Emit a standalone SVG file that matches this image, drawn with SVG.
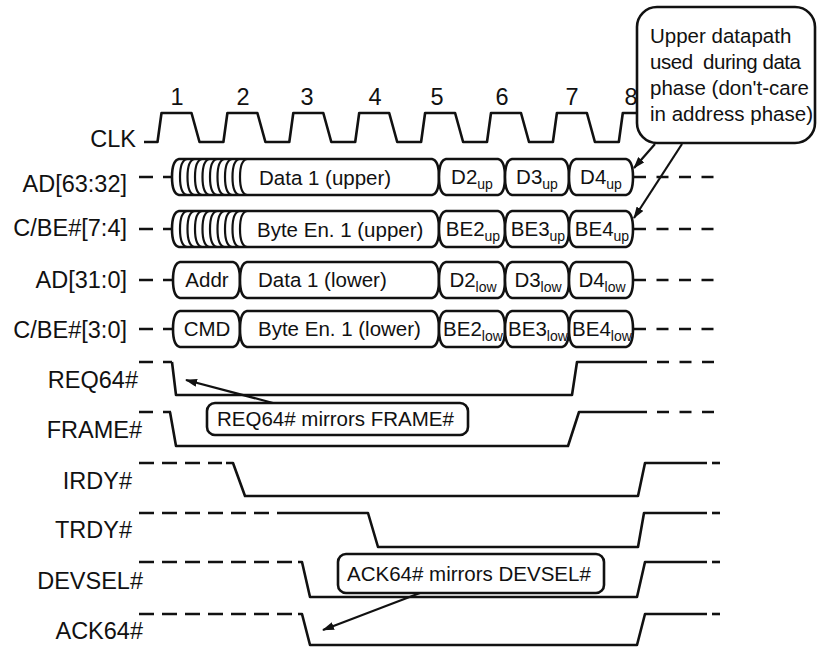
<svg xmlns="http://www.w3.org/2000/svg" xmlns:xlink="http://www.w3.org/1999/xlink" width="818" height="647" viewBox="0 0 818 647">
<style>
.ln{fill:none;stroke:#111;stroke-width:2.6;stroke-linejoin:round}
.bus{fill:#fff;stroke:#111;stroke-width:2.6;stroke-linejoin:round}
.arc{fill:none;stroke:#111;stroke-width:2.2}
.dL{fill:none;stroke:#111;stroke-width:2.6;stroke-dasharray:14 10}
.dR{fill:none;stroke:#111;stroke-width:2.6;stroke-dasharray:12 10.5}
.dS{fill:none;stroke:#111;stroke-width:2.6;stroke-dasharray:15 8}
.lab{font-family:"Liberation Sans",Arial,sans-serif;font-size:23.5px;fill:#111;text-anchor:end}
.num{font-family:"Liberation Sans",Arial,sans-serif;font-size:23.5px;fill:#111;text-anchor:middle}
.bt{font-family:"Liberation Sans",Arial,sans-serif;font-size:20.5px;fill:#111}
.btm{font-family:"Liberation Sans",Arial,sans-serif;font-size:20.5px;fill:#111;text-anchor:middle}
.sub{font-size:14px}
.ct{font-family:"Liberation Sans",Arial,sans-serif;font-size:20.5px;fill:#111}
.box{fill:#fff;stroke:#111;stroke-width:2.6}
.arr{fill:none;stroke:#111;stroke-width:2.2;marker-end:url(#ah)}
</style>
<defs>
<marker id="ah" viewBox="0 0 12 8" refX="11" refY="4" markerWidth="12" markerHeight="8" markerUnits="userSpaceOnUse" orient="auto">
<path d="M0,0 L12,4 L0,8 Z" fill="#111"/>
</marker>
<path id="arcU" class="arc" d="M7,-18 C2,-17 0,-10 0,0 C0,10 2,17 7,18"/>
<path id="sA" d="M179,-18 L432,-18 C437,-17 439,-10 439,0 C439,10 437,17 432,18 L179,18 C174,17 172,10 172,0 C172,-10 174,-17 179,-18Z"/>
<path id="sB" d="M446,-18 L498,-18 C503,-17 505,-10 505,0 C505,10 503,17 498,18 L446,18 C441,17 439,10 439,0 C439,-10 441,-17 446,-18Z"/>
<path id="sC" d="M512,-18 L562,-18 C567,-17 569,-10 569,0 C569,10 567,17 562,18 L512,18 C507,17 505,10 505,0 C505,-10 507,-17 512,-18Z"/>
<path id="sD" d="M576,-18 L626,-18 C631,-17 633,-10 633,0 C633,10 631,17 626,18 L576,18 C571,17 569,10 569,0 C569,-10 571,-17 576,-18Z"/>
<path id="sE" d="M180,-18 L233,-18 C238,-17 240,-10 240,0 C240,10 238,17 233,18 L180,18 C175,17 173,10 173,0 C173,-10 175,-17 180,-18Z"/>
<path id="sF" d="M247,-18 L432,-18 C437,-17 439,-10 439,0 C439,10 437,17 432,18 L247,18 C242,17 240,10 240,0 C240,-10 242,-17 247,-18Z"/>
<g id="crossArcs">
<use xlink:href="#arcU" x="180"/><use xlink:href="#arcU" x="187.5"/><use xlink:href="#arcU" x="195"/><use xlink:href="#arcU" x="202.5"/><use xlink:href="#arcU" x="210"/><use xlink:href="#arcU" x="217.5"/><use xlink:href="#arcU" x="225"/><use xlink:href="#arcU" x="232.5"/><use xlink:href="#arcU" x="240"/>
</g>
</defs>
<rect width="818" height="647" fill="#fff"/>

<g id="clk">
<text class="num" x="177" y="105">1</text>
<text class="num" x="243" y="105">2</text>
<text class="num" x="307" y="105">3</text>
<text class="num" x="375" y="105">4</text>
<text class="num" x="437" y="105">5</text>
<text class="num" x="502" y="105">6</text>
<text class="num" x="572" y="105">7</text>
<text class="num" x="631" y="105">8</text>
<text class="lab" x="136" y="147">CLK</text>
<path class="ln" d="M144,142 L157.5,142 L161.5,113 L191.5,113 L199.5,142 L223.4,142 L227.4,113 L257.4,113 L265.4,142 L289.3,142 L293.3,113 L323.3,113 L331.3,142 L355.2,142 L359.2,113 L389.2,113 L397.2,142 L421.1,142 L425.1,113 L455.1,113 L463.1,142 L487,142 L491,113 L521,113 L529,142 L552.9,142 L556.9,113 L586.9,113 L594.9,142 L618.8,142 L622.8,113 L640,113"/>
</g>

<g id="ad6332">
<text class="lab" x="127" y="192">AD[63:32]</text>
<g transform="translate(0,177)">
<line class="dL" x1="139" y1="0" x2="172" y2="0"/>
<use xlink:href="#sA" class="bus"/><use xlink:href="#sB" class="bus"/><use xlink:href="#sC" class="bus"/><use xlink:href="#sD" class="bus"/>
<use xlink:href="#crossArcs"/>
<line class="dR" x1="634" y1="0" x2="715" y2="0"/>
<text class="bt" x="259" y="8">Data 1 (upper)</text>
<text class="btm" x="472" y="7">D2<tspan class="sub" dy="5">up</tspan></text>
<text class="btm" x="537" y="7">D3<tspan class="sub" dy="5">up</tspan></text>
<text class="btm" x="601" y="7">D4<tspan class="sub" dy="5">up</tspan></text>
</g>
</g>

<g id="cbe74">
<text class="lab" x="127" y="236">C/BE#[7:4]</text>
<g transform="translate(0,229)">
<line class="dL" x1="139" y1="0" x2="172" y2="0"/>
<use xlink:href="#sA" class="bus"/><use xlink:href="#sB" class="bus"/><use xlink:href="#sC" class="bus"/><use xlink:href="#sD" class="bus"/>
<use xlink:href="#crossArcs"/>
<line class="dR" x1="634" y1="0" x2="715" y2="0"/>
<text class="bt" x="257" y="8">Byte En. 1 (upper)</text>
<text class="btm" x="473" y="7">BE2<tspan class="sub" dy="5">up</tspan></text>
<text class="btm" x="538" y="7">BE3<tspan class="sub" dy="5">up</tspan></text>
<text class="btm" x="602" y="7">BE4<tspan class="sub" dy="5">up</tspan></text>
</g>
</g>

<g id="ad310">
<text class="lab" x="127" y="288">AD[31:0]</text>
<g transform="translate(0,280)">
<line class="dL" x1="139" y1="0" x2="173" y2="0"/>
<use xlink:href="#sE" class="bus"/><use xlink:href="#sF" class="bus"/><use xlink:href="#sB" class="bus"/><use xlink:href="#sC" class="bus"/><use xlink:href="#sD" class="bus"/>
<line class="dR" x1="634" y1="0" x2="715" y2="0"/>
<text class="btm" x="207" y="7">Addr</text>
<text class="bt" x="258" y="7">Data 1 (lower)</text>
<text class="btm" x="473" y="7">D2<tspan class="sub" dy="5">low</tspan></text>
<text class="btm" x="538" y="7">D3<tspan class="sub" dy="5">low</tspan></text>
<text class="btm" x="602" y="7">D4<tspan class="sub" dy="5">low</tspan></text>
</g>
</g>

<g id="cbe30">
<text class="lab" x="127" y="338">C/BE#[3:0]</text>
<g transform="translate(0,329)">
<line class="dL" x1="139" y1="0" x2="173" y2="0"/>
<use xlink:href="#sE" class="bus"/><use xlink:href="#sF" class="bus"/><use xlink:href="#sB" class="bus"/><use xlink:href="#sC" class="bus"/><use xlink:href="#sD" class="bus"/>
<line class="dR" x1="634" y1="0" x2="715" y2="0"/>
<text class="btm" x="207" y="7">CMD</text>
<text class="bt" x="258" y="7">Byte En. 1 (lower)</text>
<text class="btm" x="473" y="7">BE2<tspan class="sub" dy="5">low</tspan></text>
<text class="btm" x="538" y="7">BE3<tspan class="sub" dy="5">low</tspan></text>
<text class="btm" x="602" y="7">BE4<tspan class="sub" dy="5">low</tspan></text>
</g>
</g>

<g id="req64">
<text class="lab" x="138" y="388">REQ64#</text>
<line class="dL" x1="139" y1="362" x2="172" y2="362"/>
<path class="ln" d="M172,362 L176,395 L572,395 L577,362 L647,362"/>
<line class="dR" x1="657" y1="362" x2="715" y2="362"/>
</g>

<g id="frame">
<text class="lab" x="142" y="438">FRAME#</text>
<line class="dL" x1="139" y1="412" x2="171" y2="412"/>
<path class="ln" d="M170,412 L176,446 L568,446 L579,412 L647,412"/>
<line class="dR" x1="657" y1="412" x2="715" y2="412"/>
</g>

<g id="irdy">
<text class="lab" x="132" y="489">IRDY#</text>
<line class="dS" x1="139" y1="463" x2="222" y2="463"/>
<path class="ln" d="M226,463 L233,463 L245,496 L638,496 L645,463 L707,463"/>
<line class="ln" x1="712" y1="463" x2="720" y2="463"/>
</g>

<g id="trdy">
<text class="lab" x="132" y="538">TRDY#</text>
<line class="dS" x1="139" y1="513" x2="269" y2="513"/>
<path class="ln" d="M277,513 L368,513 L378,547 L638,547 L644,513 L707,513"/>
<line class="ln" x1="712" y1="513" x2="720" y2="513"/>
</g>

<g id="devsel">
<text class="lab" x="143" y="589">DEVSEL#</text>
<line class="dS" x1="139" y1="562" x2="292" y2="562"/>
<path class="ln" d="M298,562 L302,562 L310,597 L637,597 L645,562 L707,562"/>
<line class="ln" x1="712" y1="562" x2="720" y2="562"/>
</g>

<g id="ack64">
<text class="lab" x="143" y="639">ACK64#</text>
<line class="dS" x1="139" y1="614" x2="292" y2="614"/>
<path class="ln" d="M298,614 L302,614 L310,645 L637,645 L645,614 L707,614"/>
<line class="ln" x1="712" y1="614" x2="720" y2="614"/>
</g>

<g id="note-upper">
<rect class="box" x="637" y="7" width="178" height="136" rx="20" ry="20"/>
<text class="ct" x="650" y="43">Upper datapath</text>
<text class="ct" x="650" y="69" textLength="151" lengthAdjust="spacing">used&#160; during data</text>
<text class="ct" x="650" y="95">phase (don't-care</text>
<text class="ct" x="650" y="121">in address phase)</text>
</g>

<g id="note-req64">
<rect class="box" x="207" y="403" width="261" height="32" rx="8" ry="8"/>
<text class="ct" x="217" y="426">REQ64# mirrors FRAME#</text>
</g>

<g id="note-ack64">
<rect class="box" x="338" y="554" width="266" height="39" rx="8" ry="8"/>
<text class="ct" x="347" y="581">ACK64# mirrors DEVSEL#</text>
</g>

<g id="connectors">
<line class="arr" x1="655" y1="144" x2="634" y2="168"/>
<line class="arr" x1="682" y1="144" x2="634" y2="218"/>
<line class="arr" x1="273" y1="403" x2="186" y2="380"/>
<line class="arr" x1="420" y1="593" x2="323" y2="630"/>
</g>
</svg>
